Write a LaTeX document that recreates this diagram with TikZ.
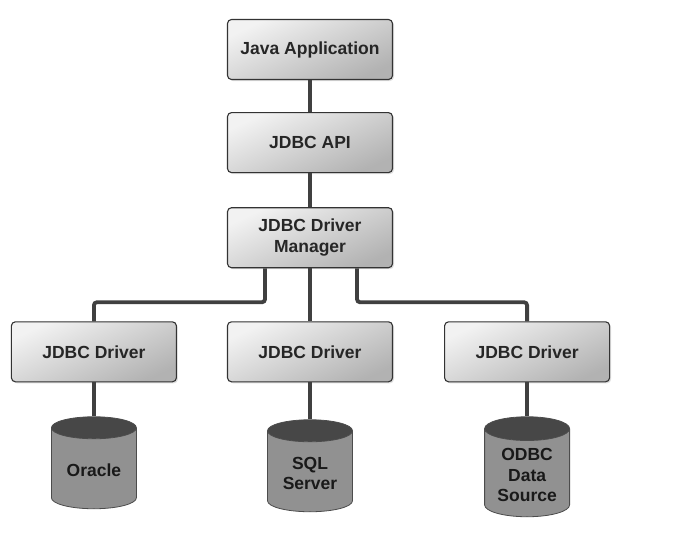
\documentclass[tikz,border=0pt]{standalone}
\usepackage{fontspec}
\setmainfont{Liberation Sans}
\usetikzlibrary{positioning, shapes.geometric, shadows}
\newcommand{\boxfont}{\fontsize{17.5}{20.5}\selectfont\bfseries}
\tikzset{
  layer/.style={draw=gray!40!black, line width=1.1pt, rounded corners=4pt,
    top color=gray!10, bottom color=gray!60, shading angle=25,
    minimum width=165pt, minimum height=60pt,
    align=center, font=\boxfont, text=black!85,
    drop shadow={opacity=0.25, shadow xshift=1.5pt, shadow yshift=-1.5pt}},
  store/.style={cylinder, shape border rotate=90, aspect=0.36, draw=black!70,
    line width=0.8pt, cylinder uses custom fill, cylinder body fill=black!43,
    cylinder end fill=black!72, minimum width=85pt, minimum height=92pt,
    align=center, font=\boxfont, text=black!90},
  wire/.style={draw=black!75, line width=3.8pt, rounded corners=3pt}
}

\begin{document}
\begin{tikzpicture}
    \useasboundingbox (0,0) rectangle (700pt,-539pt);
    % layers
    \node[layer] (app) at (310pt,-49.5pt) {Java Application};
    \node[layer, below=32pt of app] (api) {JDBC API};
    \node[layer, below=34pt of api] (mgr) {JDBC Driver\\Manager};
    \node[layer, below=53pt of mgr] (drvsql) {JDBC Driver};
    \node[layer, left=50pt of drvsql] (drvora) {JDBC Driver};
    \node[layer, right=51pt of drvsql] (drvodbc) {JDBC Driver};
    % data sources
    \node[store, below=34pt of drvora] (oracle) {Oracle};
    \node[store, below=37pt of drvsql] (sqlsrv) {SQL\\Server};
    \node[store, below=34pt of drvodbc, minimum height=100pt] (odbc) {ODBC\\Data\\Source};
    % wires
    \draw[wire] (app) -- (api);
    \draw[wire] (api) -- (mgr);
    \draw[wire] (mgr) -- (drvsql);
    \draw[wire] ([xshift=-45pt]mgr.south) -- ++(0,-34pt) -| (drvora.north);
    \draw[wire] ([xshift=47pt]mgr.south) -- ++(0,-34pt) -| (drvodbc.north);
    \draw[wire] (drvora.south) -- (oracle.north);
    \draw[wire] (drvsql.south) -- (sqlsrv.north);
    \draw[wire] (drvodbc.south) -- (odbc.north);
\end{tikzpicture}
\end{document}
